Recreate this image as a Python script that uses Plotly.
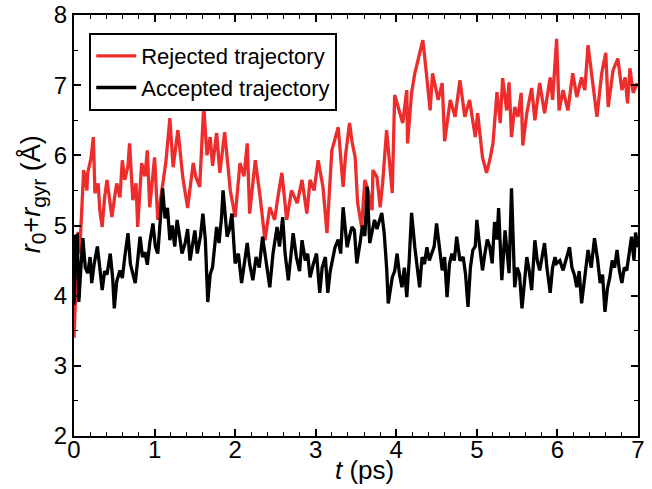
import plotly.graph_objects as go

# Rejected trajectory (red)
t_rej = [0.00,0.05,0.07,0.12,0.16,0.17,0.21,0.24,0.26,0.30,0.32,0.35,0.38,0.41,0.45,0.47,0.51,0.53,0.57,0.60,
         0.63,0.67,0.69,0.73,0.77,0.79,0.84,0.88,0.91,0.94,1.00,1.04,1.09,1.14,1.19,1.23,1.29,1.35,1.41,1.48,
         1.51,1.56,1.61,1.65,1.69,1.72,1.77,1.81,1.87,1.94,2.00,2.06,2.11,2.15,2.18,2.25,2.31,2.37,2.43,2.49,
         2.53,2.58,2.64,2.70,2.77,2.83,2.89,2.93,2.98,3.03,3.09,3.14,3.20,3.28,3.34,3.37,3.42,3.45,3.49,3.52,
         3.57,3.61,3.65,3.70,3.71,3.76,3.80,3.83,3.88,3.92,3.95,3.98,4.04,4.08,4.13,4.14,4.19,4.23,4.27,4.33,
         4.37,4.42,4.45,4.52,4.57,4.60,4.67,4.73,4.79,4.85,4.91,4.98,5.01,5.07,5.12,5.16,5.20,5.25,5.29,5.32,
         5.37,5.40,5.43,5.47,5.51,5.55,5.57,5.62,5.68,5.72,5.78,5.84,5.91,5.94,5.99,6.02,6.07,6.13,6.19,6.24,
         6.30,6.34,6.38,6.44,6.49,6.55,6.60,6.63,6.69,6.75,6.80,6.84,6.87,6.90,6.94,6.99]
r_rej = [3.40,4.91,4.60,5.79,5.50,5.75,5.95,6.26,5.46,5.60,5.22,4.98,5.40,5.65,5.30,5.12,5.45,5.60,5.40,5.93,
         5.65,5.85,6.17,5.36,5.60,4.98,5.89,5.70,6.07,5.26,5.97,5.08,5.50,5.90,6.53,5.83,6.36,5.69,5.25,5.89,
         5.70,5.55,6.71,6.00,6.26,5.85,6.32,5.75,6.33,5.50,5.12,5.89,5.70,6.17,5.17,5.93,5.41,4.79,5.26,5.08,
         5.40,5.75,5.08,5.50,5.32,5.65,5.17,5.65,5.50,5.93,5.55,4.89,6.07,6.40,5.55,6.00,6.46,6.20,5.97,5.32,
         4.98,5.65,5.50,5.22,5.79,5.69,5.26,5.60,6.36,5.80,5.46,6.86,6.60,6.46,6.93,6.17,6.89,7.17,7.36,7.64,
         7.21,6.64,7.17,6.79,7.03,6.20,6.79,6.55,7.07,6.55,6.79,6.26,6.60,5.97,5.75,5.93,6.17,6.90,6.46,7.10,
         6.64,7.04,6.26,6.69,6.55,6.89,6.14,6.60,6.96,6.50,7.03,6.60,7.11,6.79,7.66,6.64,6.93,6.64,7.17,6.83,
         7.11,6.93,7.57,7.03,6.55,7.17,7.46,6.69,7.21,7.38,6.93,7.11,6.74,7.24,6.89,7.03]

# Accepted trajectory (black)
t_acc = [0.00,0.02,0.04,0.06,0.08,0.11,0.14,0.17,0.20,0.22,0.25,0.29,0.32,0.35,0.38,0.41,0.45,0.48,0.50,0.53,
         0.57,0.60,0.63,0.67,0.70,0.73,0.76,0.79,0.82,0.85,0.88,0.91,0.94,0.98,1.01,1.04,1.07,1.10,1.13,1.16,
         1.19,1.22,1.25,1.28,1.31,1.34,1.38,1.41,1.44,1.47,1.50,1.53,1.57,1.60,1.63,1.66,1.69,1.72,1.75,1.77,
         1.80,1.83,1.85,1.88,1.90,1.93,1.96,2.00,2.04,2.08,2.11,2.15,2.18,2.22,2.26,2.30,2.34,2.38,2.43,2.47,
         2.52,2.55,2.59,2.62,2.66,2.69,2.72,2.76,2.80,2.83,2.87,2.90,2.93,2.97,3.01,3.05,3.08,3.12,3.15,3.18,
         3.21,3.24,3.28,3.31,3.34,3.37,3.39,3.42,3.45,3.48,3.51,3.55,3.58,3.61,3.64,3.67,3.70,3.73,3.76,3.79,
         3.82,3.85,3.88,3.90,3.93,3.95,3.98,4.01,4.04,4.07,4.10,4.13,4.16,4.19,4.23,4.26,4.29,4.32,4.35,4.38,
         4.41,4.44,4.47,4.50,4.53,4.57,4.60,4.63,4.66,4.69,4.72,4.75,4.79,4.83,4.86,4.89,4.92,4.95,4.98,5.00,
         5.03,5.07,5.10,5.13,5.16,5.19,5.22,5.25,5.27,5.31,5.35,5.40,5.43,5.47,5.50,5.53,5.56,5.59,5.62,5.65,
         5.68,5.72,5.75,5.78,5.81,5.84,5.87,5.91,5.94,5.97,5.99,6.03,6.07,6.11,6.15,6.18,6.21,6.24,6.27,6.30,
         6.34,6.38,6.42,6.46,6.50,6.53,6.56,6.59,6.62,6.65,6.68,6.71,6.74,6.77,6.80,6.83,6.86,6.89,6.92,6.95,
         6.97,7.00]
r_acc = [3.87,4.85,4.86,3.91,4.30,4.82,4.40,4.32,4.55,4.18,4.45,4.70,4.40,4.08,4.35,4.30,4.60,4.25,3.82,4.20,
         4.36,4.25,4.55,4.89,4.45,4.30,4.18,4.50,4.84,4.55,4.62,4.44,4.75,5.03,4.70,4.60,5.00,5.53,5.10,5.25,
         4.79,5.00,4.70,5.08,4.85,4.60,4.75,4.95,4.50,4.70,4.93,4.60,4.85,5.17,4.80,3.91,4.30,4.41,4.70,4.98,
         4.75,5.10,5.50,5.05,4.84,4.95,5.17,4.46,4.60,4.18,4.45,4.75,4.45,4.22,4.55,4.40,4.84,4.50,4.12,4.60,
         4.98,4.70,5.12,4.60,4.22,4.55,4.89,4.55,4.35,4.79,4.50,4.60,4.26,4.45,4.60,4.04,4.40,4.55,4.04,4.35,
         4.50,4.69,4.80,4.60,5.26,4.85,4.69,4.85,4.98,4.93,4.46,4.75,5.00,4.85,5.55,4.75,4.90,5.08,4.95,5.05,
         5.18,4.89,4.40,3.89,4.10,4.26,4.35,4.60,4.30,4.12,4.40,3.98,4.50,5.18,4.69,4.35,4.12,4.55,4.45,4.69,
         4.50,4.60,4.70,5.03,4.70,4.36,4.55,3.98,4.45,4.60,4.50,4.84,4.50,4.55,4.30,3.84,4.40,4.65,4.70,5.08,
         4.75,4.36,4.60,4.80,4.70,4.46,5.05,4.80,5.25,4.22,4.93,4.32,5.53,4.12,4.40,4.30,3.82,4.20,4.55,4.35,
         4.08,4.79,4.50,4.36,4.55,4.75,4.40,4.04,4.40,4.55,4.46,4.50,4.36,4.55,4.69,4.40,4.30,4.12,4.35,3.89,
         4.30,4.65,4.40,4.82,4.50,4.18,4.30,3.77,4.10,4.26,4.50,4.40,4.65,4.35,4.18,4.40,4.36,4.60,4.84,4.50,
         4.90,4.69]

FONT = "Liberation Sans, Arial, Helvetica, sans-serif"

fig = go.Figure()
fig.add_trace(go.Scatter(x=t_rej, y=r_rej, mode="lines", name="Rejected trajectory",
                         line=dict(color="#ee2c2c", width=3.3)))
fig.add_trace(go.Scatter(x=t_acc, y=r_acc, mode="lines", name="Accepted trajectory",
                         line=dict(color="#000000", width=3.3)))

axis_common = dict(
    showline=True, linecolor="black", linewidth=2, mirror="allticks",
    ticks="inside", ticklen=7, tickwidth=1.5, tickcolor="black",
    showgrid=False, zeroline=False, automargin=False,
    tickfont=dict(family=FONT, size=24, color="black"),
)

fig.update_layout(
    width=652, height=489,
    margin=dict(l=74, r=14, t=15, b=53, autoexpand=False),
    paper_bgcolor="white", plot_bgcolor="white",
    font=dict(family=FONT, color="black"),
    xaxis=dict(range=[0, 7], dtick=1, tick0=0, ticklabelstandoff=-9,
               minor=dict(ticks="inside", ticklen=4, dtick=0.2, tickcolor="black", tickwidth=1),
               **axis_common),
    yaxis=dict(range=[2, 8], dtick=1, tick0=2,
               minor=dict(ticks="inside", ticklen=4, dtick=0.5, tickcolor="black", tickwidth=1),
               **axis_common),
    legend=dict(x=0.027, y=0.957, xanchor="left", yanchor="top",
                bgcolor="white", bordercolor="black", borderwidth=2,
                font=dict(family=FONT, size=22, color="black"),
                tracegroupgap=0, itemwidth=40),
    showlegend=True,
    annotations=[
        dict(text="<i>t</i> (ps)", xref="paper", yref="paper",
             x=0.515, y=-0.08, xanchor="center", yanchor="middle",
             showarrow=False, font=dict(family=FONT, size=26, color="black")),
        dict(text="<i>r</i><sub><span style=\"font-size:21px\">0</span></sub>+<i>r</i>"
                  "<sub><span style=\"font-size:21px\">gyr</span></sub> (Å)",
             xref="paper", yref="paper", x=-0.072, y=0.575, textangle=-90,
             xanchor="center", yanchor="middle",
             showarrow=False, font=dict(family=FONT, size=27, color="black")),
    ],
)

fig.write_html("out.html")
